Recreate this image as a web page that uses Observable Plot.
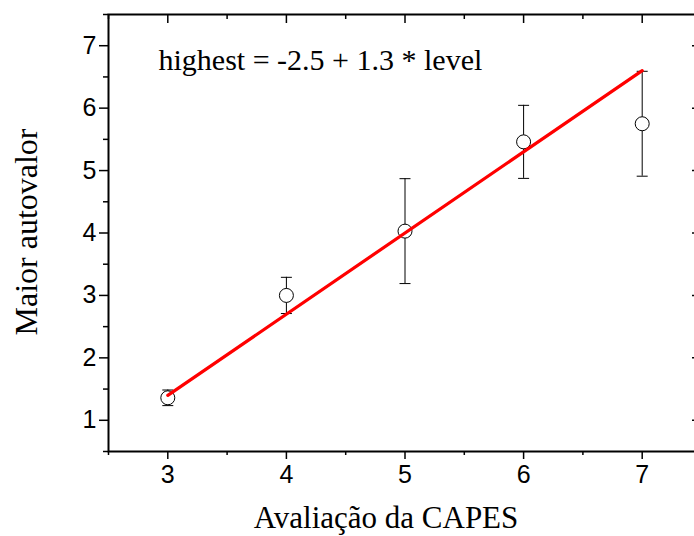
<!DOCTYPE html>
<html><head><meta charset="utf-8">
<script src="https://cdn.jsdelivr.net/npm/d3@7"></script>
<script src="https://cdn.jsdelivr.net/npm/@observablehq/plot@0.6"></script>
<style>html,body{margin:0;padding:0;background:#fff;overflow:hidden}</style>
</head><body><div id="chart"></div>
<script>
// Data
const levels = [3, 4, 5, 6, 7];
const means = [1.36, 3.00, 4.03, 5.46, 5.75];
const errors = [0.125, 0.29, 0.84, 0.585, 0.84];
const fitIntercept = -2.5;
const fitSlope = 1.3;
const fitLevels = [3, 7];
const xMajorTicks = [3, 4, 5, 6, 7];
const xMinorTicks = [2.5, 3.5, 4.5, 5.5, 6.5, 7.5];
const yMajorTicks = [1, 2, 3, 4, 5, 6, 7];
const yMinorTicks = [0.5, 1.5, 2.5, 3.5, 4.5, 5.5, 6.5, 7.5];
const annotation = "highest = -2.5 + 1.3 * level";
const xTitle = "Avaliação da CAPES";
const yTitle = "Maior autovalor";

const points = levels.map((x, i) => ({x, y: means[i], lo: means[i] - errors[i], hi: means[i] + errors[i]}));
const caps = points.flatMap(d => [{x: d.x, y: d.lo}, {x: d.x, y: d.hi}]);
const fit = fitLevels.map(x => ({x, y: fitIntercept + fitSlope * x}));

const W = 694, H = 536, ML = 108, MR = -7, MT = 14, MB = 85;
const plotW = W - ML - MR, plotH = H - MT - MB;

const capSymbol = {draw(ctx, size) { const r = Math.sqrt(size / Math.PI); ctx.moveTo(-r, 0); ctx.lineTo(r, 0); }};
const serif = "'Liberation Serif', 'Times New Roman', serif";
const sans = "'Liberation Sans', Arial, sans-serif";
const blank = () => "";
const intFmt = d => String(d);

const chart = Plot.plot({
  width: W,
  height: H,
  marginLeft: ML,
  marginRight: MR,
  marginTop: MT,
  marginBottom: MB,
  style: {fontFamily: sans, background: "#fff", color: "#000"},
  x: {domain: [2.5, 7.5], label: null},
  y: {domain: [0.5, 7.5], label: null},
  marks: [
    Plot.axisX(xMajorTicks, {anchor: "bottom", tickSize: 8, tickPadding: 6, fontSize: 25, tickFormat: intFmt, strokeWidth: 1.5, label: null}),
    Plot.axisX(xMinorTicks, {anchor: "bottom", tickSize: 4, tickFormat: blank, strokeWidth: 1.5, label: null}),
    Plot.tickX(xMajorTicks, {x: d => d, insetBottom: plotH - 9, stroke: "#000", strokeWidth: 1.5}),
    Plot.tickX(xMinorTicks, {x: d => d, insetBottom: plotH - 5, stroke: "#000", strokeWidth: 1.5}),
    Plot.axisY(yMajorTicks, {anchor: "left", tickSize: 9, tickPadding: 3, fontSize: 25, tickFormat: intFmt, strokeWidth: 1.5, label: null}),
    Plot.axisY(yMinorTicks, {anchor: "left", tickSize: 5, tickFormat: blank, strokeWidth: 1.5, label: null}),
    Plot.tickY(yMajorTicks, {y: d => d, insetLeft: plotW - 9, stroke: "#000", strokeWidth: 1.5}),
    Plot.tickY(yMinorTicks, {y: d => d, insetLeft: plotW - 5, stroke: "#000", strokeWidth: 1.5}),
    Plot.frame({stroke: "#000", strokeWidth: 2}),
    Plot.ruleX(points, {x: "x", y1: "lo", y2: "hi", stroke: "#000", strokeWidth: 1}),
    Plot.dot(caps, {x: "x", y: "y", symbol: capSymbol, r: 5.5, stroke: "#000", fill: "none", strokeWidth: 1}),
    Plot.dot(points, {x: "x", y: "y", r: 7, stroke: "#000", fill: "#fff", strokeWidth: 1}),
    Plot.line(fit, {x: "x", y: "y", stroke: "#ff0000", strokeWidth: 3.2}),
    Plot.text([annotation], {text: d => d, frameAnchor: "top-left", textAnchor: "start", lineAnchor: "middle", dx: 50, dy: 46, fontSize: 30, fontFamily: serif, fill: "#000"}),
    Plot.text([xTitle], {text: d => d, frameAnchor: "bottom", textAnchor: "middle", lineAnchor: "middle", dx: -19, dy: 67, fontSize: 31, fontFamily: serif, fill: "#000"}),
    Plot.text([yTitle], {text: d => d, frameAnchor: "left", textAnchor: "middle", rotate: -90, lineAnchor: "middle", dx: -82, dy: -1, fontSize: 32, fontFamily: serif, fill: "#000"})
  ]
});
document.getElementById("chart").appendChild(chart);
</script>
</body></html>
